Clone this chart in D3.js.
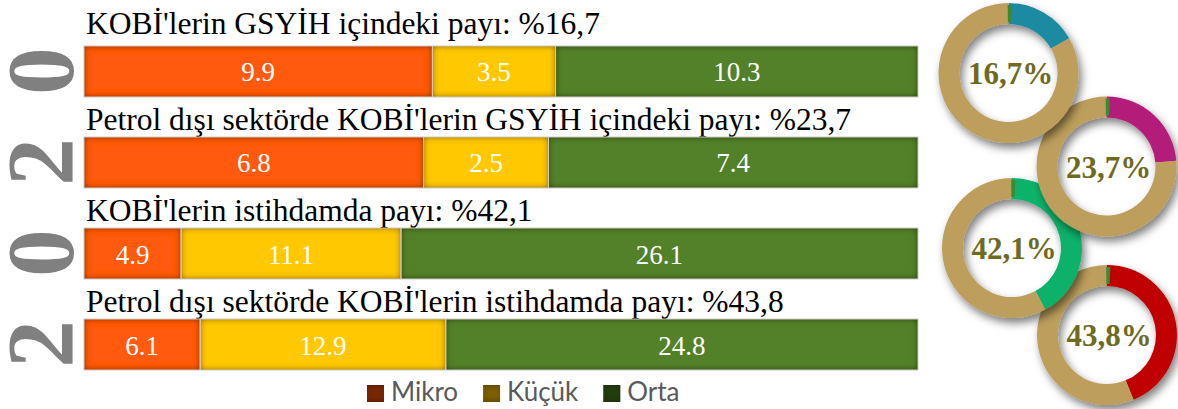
<!DOCTYPE html>
<html>
<head>
<meta charset="utf-8">
<script src="https://cdn.jsdelivr.net/npm/d3@7"></script>
<style>
  html, body { margin: 0; padding: 0; background: #fff; }
  svg { display: block; }
</style>
</head>
<body>
<svg id="chart" width="1178" height="409"></svg>
<script>
// data
const categories = ["Mikro", "Küçük", "Orta"];
const barTitles = [
  "KOBİ'lerin GSYİH içindeki payı: %16,7",
  "Petrol dışı sektörde KOBİ'lerin GSYİH içindeki payı: %23,7",
  "KOBİ'lerin istihdamda payı: %42,1",
  "Petrol dışı sektörde KOBİ'lerin istihdamda payı: %43,8"
];
const mikro = [9.9, 6.8, 4.9, 6.1];
const kucuk = [3.5, 2.5, 11.1, 12.9];
const orta = [10.3, 7.4, 26.1, 24.8];

const donutValues = [16.7, 23.7, 42.1, 43.8];
const donutLabels = ["16,7%", "23,7%", "42,1%", "43,8%"];
const yearText = "2020";

// styles
const barColors = ["#ff5a0a", "#ffc800", "#538129"];
const legendColors = ["#7c2a08", "#7f6000", "#283f15"];
const donutColors = ["#1f8aa0", "#b41a7a", "#10b26a", "#c00000"];
const donutRest = "#bd9e5c";
const donutCenters = [[1008.5, 73], [1106.5, 166.5], [1012, 248], [1107, 335]];

const svg = d3.select("#chart");
const defs = svg.append("defs");

// inner shadow for bar segments
const inset = defs.append("filter").attr("id", "inset")
  .attr("x", "-5%").attr("y", "-20%").attr("width", "110%").attr("height", "140%");
inset.append("feFlood").attr("flood-color", "#1a0d00").attr("flood-opacity", 1).attr("result", "flood");
inset.append("feComposite").attr("in", "flood").attr("in2", "SourceAlpha").attr("operator", "out").attr("result", "outside");
inset.append("feGaussianBlur").attr("in", "outside").attr("stdDeviation", 3).attr("result", "blur");
inset.append("feComposite").attr("in", "blur").attr("in2", "SourceAlpha").attr("operator", "in").attr("result", "shadow");
const im = inset.append("feMerge");
im.append("feMergeNode").attr("in", "SourceGraphic");
im.append("feMergeNode").attr("in", "shadow");

const drop = defs.append("filter").attr("id", "drop")
  .attr("x", "-20%").attr("y", "-20%").attr("width", "150%").attr("height", "150%");
drop.append("feDropShadow").attr("dx", 3).attr("dy", 5).attr("stdDeviation", 4)
  .attr("flood-color", "#000").attr("flood-opacity", 0.5);

// year on the left
const yearY = d3.scalePoint().domain(d3.range(yearText.length)).range([344, 71]);
svg.append("g")
  .selectAll("text")
  .data(yearText.split(""))
  .join("text")
  .attr("transform", (d, i) => `translate(73, ${yearY(i)}) rotate(-90)`)
  .attr("text-anchor", "middle")
  .attr("font-family", "Liberation Serif, Times New Roman, serif")
  .attr("font-weight", "bold")
  .attr("font-size", 95)
  .attr("fill", "#808080")
  .text((d) => d);

// stacked bars
const rows = barTitles.map((t, i) => ({ title: t, values: [mikro[i], kucuk[i], orta[i]] }));
const y = d3.scaleBand().domain(d3.range(rows.length)).range([46, 370]).paddingInner(0.44);

const row = svg.append("g").selectAll("g").data(rows).join("g");

row.append("text")
  .attr("x", 86)
  .attr("y", (d, i) => y(i) - (i === 0 ? 12 : 7))
  .attr("font-family", "Liberation Serif, Times New Roman, serif")
  .attr("font-size", 31.5)
  .attr("fill", "#000")
  .text((d) => d.title);

row.each(function (d, i) {
  const g = d3.select(this);
  const total = d3.sum(d.values);
  const x = d3.scaleLinear().domain([0, total]).range([84, 918]);
  let acc = 0;
  const segs = d.values.map((v, k) => {
    const s = { v, k, x0: acc, x1: acc + v };
    acc += v;
    return s;
  });
  g.selectAll("rect.seg").data(segs).join("rect")
    .attr("class", "seg")
    .attr("x", (s) => x(s.x0))
    .attr("y", y(i))
    .attr("width", (s) => x(s.x1) - x(s.x0))
    .attr("height", y.bandwidth())
    .attr("fill", (s) => barColors[s.k])
    .attr("filter", "url(#inset)");
  g.selectAll("rect.edge").data(segs).join("rect")
    .attr("class", "edge")
    .attr("x", (s) => x(s.x0))
    .attr("y", y(i))
    .attr("width", (s) => x(s.x1) - x(s.x0))
    .attr("height", y.bandwidth())
    .attr("fill", "none")
    .attr("stroke", "#cfc9c2")
    .attr("stroke-width", 1);
  g.selectAll("text.val").data(segs).join("text")
    .attr("class", "val")
    .attr("x", (s) => (x(s.x0) + x(s.x1)) / 2)
    .attr("y", y(i) + y.bandwidth() / 2 + 10)
    .attr("text-anchor", "middle")
    .attr("font-family", "Liberation Serif, Times New Roman, serif")
    .attr("font-size", 27)
    .attr("fill", "#fff")
    .text((s) => s.v.toFixed(1));
});

// legend
const legend = svg.append("g");
let lx = 367;
categories.forEach((c, k) => {
  legend.append("rect")
    .attr("x", lx).attr("y", 385).attr("width", 17).attr("height", 17)
    .attr("fill", legendColors[k]).attr("filter", "url(#inset)");
  const t = legend.append("text")
    .attr("x", lx + 24).attr("y", 401)
    .attr("font-family", "Lato, Open Sans, sans-serif")
    .attr("font-size", 26)
    .attr("fill", "#595959")
    .text(c);
  lx += 24 + t.node().getComputedTextLength() + 25;
});

// donuts, lower ones first so the upper ones sit on top
const arc = d3.arc().innerRadius(49).outerRadius(70);
const tickArc = d3.arc().innerRadius(51).outerRadius(68).startAngle(-0.012).endAngle(0.05);
const pie = d3.pie().sort(null).value((d) => d);

d3.range(donutValues.length).reverse().forEach((i) => {
  const [cx, cy] = donutCenters[i];
  const g = svg.append("g").attr("transform", `translate(${cx}, ${cy})`);
  const ring = g.append("g").attr("filter", "url(#drop)");
  ring.selectAll("path")
    .data(pie([donutValues[i], 100 - donutValues[i]]))
    .join("path")
    .attr("d", arc)
    .attr("fill", (d, k) => (k === 0 ? donutColors[i] : donutRest));
  g.append("path").attr("d", tickArc()).attr("fill", "#3a8a34");
  g.append("text")
    .attr("x", 2)
    .attr("y", 11)
    .attr("text-anchor", "middle")
    .attr("font-family", "Liberation Serif, Times New Roman, serif")
    .attr("font-weight", "bold")
    .attr("font-size", 31)
    .attr("fill", "#6e6a1f")
    .text(donutLabels[i]);
});
</script>
</body>
</html>
